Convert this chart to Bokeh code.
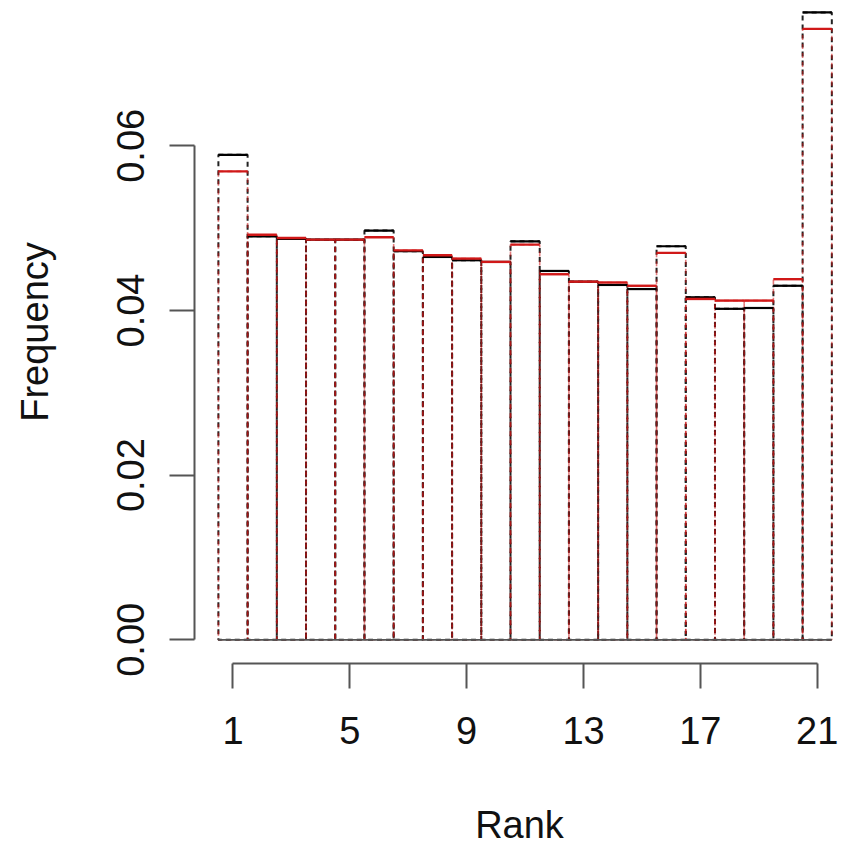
from bokeh.plotting import figure
from bokeh.models import FixedTicker, NumeralTickFormatter, Range1d
from bokeh.embed import file_html
from bokeh.resources import INLINE

ranks = list(range(1, 22))
freq_black = [0.0589, 0.0490, 0.0487, 0.0486, 0.0486, 0.0497, 0.0472, 0.0465, 0.0461, 0.0459,
              0.0484, 0.0448, 0.0435, 0.0431, 0.0426, 0.0478, 0.0416, 0.0402, 0.0403, 0.0430, 0.0762]
freq_red = [0.0569, 0.0492, 0.0488, 0.0486, 0.0486, 0.0489, 0.0473, 0.0467, 0.0463, 0.0459,
            0.0480, 0.0444, 0.0435, 0.0434, 0.0430, 0.0470, 0.0414, 0.0412, 0.0412, 0.0438, 0.0742]
x_ticks = [1, 5, 9, 13, 17, 21]
y_ticks = [0.0, 0.02, 0.04, 0.06]

FONT = "Liberation Sans"

p = figure(width=844, height=850, output_backend="svg", toolbar_location=None,
           x_range=Range1d(-0.318, 21.934), y_range=Range1d(-0.00288, 0.07765),
           min_border_left=194, min_border_bottom=187, min_border_top=0, min_border_right=0)
p.outline_line_color = None
p.xgrid.visible = False
p.ygrid.visible = False
p.background_fill_color = "white"
p.border_fill_color = "white"

left = [r - 0.5 for r in ranks]
right = [r + 0.5 for r in ranks]
zeros = [0.0] * len(ranks)

# dashed outlines
p.quad(left=left, right=right, bottom=zeros, top=freq_black, fill_color=None,
       line_color="#222222", line_width=2, line_dash="5 4")
p.quad(left=left, right=right, bottom=zeros, top=freq_red, fill_color=None,
       line_color="#cc1111", line_width=1.6, line_dash="5 4", line_alpha=0.55)
# solid tops
p.segment(x0=left, x1=right, y0=freq_black, y1=freq_black, line_color="black", line_width=2.2)
p.segment(x0=left, x1=right, y0=freq_red, y1=freq_red, line_color="#d01818", line_width=2.4)
# baseline
p.segment(x0=[min(ranks) - 0.5], x1=[max(ranks) + 0.5], y0=[0.0], y1=[0.0],
          line_color="#555555", line_width=1.8)

for ax in (p.xaxis[0], p.yaxis[0]):
    ax.axis_line_color = "#555555"
    ax.axis_line_width = 2
    ax.major_tick_line_color = "#555555"
    ax.major_tick_line_width = 2
    ax.major_tick_out = 25
    ax.major_tick_in = 0
    ax.minor_tick_line_color = None
    ax.major_label_text_font = FONT
    ax.major_label_text_font_size = "38px"
    ax.major_label_text_color = "#111111"
    ax.axis_label_text_font = FONT
    ax.axis_label_text_font_size = "38px"
    ax.axis_label_text_font_style = "normal"
    ax.axis_label_text_color = "#111111"

p.xaxis.ticker = FixedTicker(ticks=x_ticks)
p.xaxis.bounds = (1, 21)
p.xaxis.axis_label = "Rank"
p.xaxis.major_label_standoff = 28
p.xaxis.axis_label_standoff = 57

p.yaxis.ticker = FixedTicker(ticks=y_ticks)
p.yaxis.bounds = (0, 0.06)
p.yaxis.formatter = NumeralTickFormatter(format="0.00")
p.yaxis.major_label_orientation = "vertical"
p.yaxis.axis_label = "Frequency"
p.yaxis.major_label_standoff = 25
p.yaxis.axis_label_standoff = 59

open("out.html", "w").write(file_html(p, INLINE))
